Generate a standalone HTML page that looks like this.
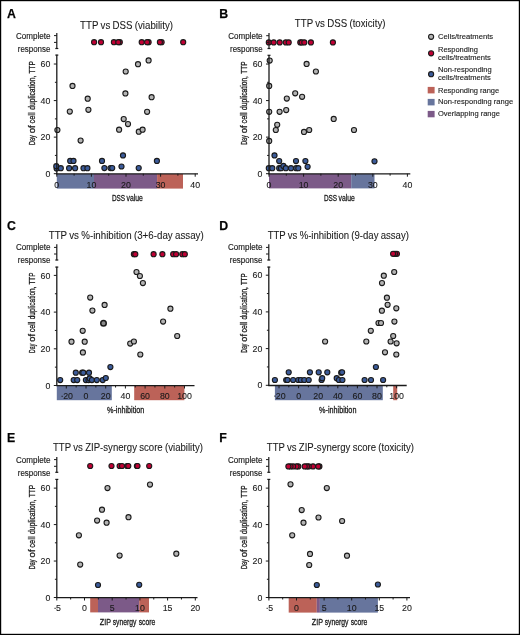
<!DOCTYPE html>
<html><head><meta charset="utf-8"><style>
html,body{margin:0;padding:0;background:#fff;}
svg{display:block;will-change:transform;}
text{font-family:"Liberation Sans", sans-serif;stroke:#1a1a1a;stroke-width:0.25px;}
</style></head><body>
<svg width="520" height="635" viewBox="0 0 520 635">
<rect x="0" y="0" width="520" height="635" fill="#fff"/>
<text x="6.90" y="17.70" font-size="12.3" text-anchor="start" font-weight="bold" fill="#000" >A</text>
<text x="80.10" y="28.75" font-size="10.2" text-anchor="start" font-weight="normal" fill="#1a1a1a" textLength="92.90" lengthAdjust="spacingAndGlyphs" style="stroke-width:0.08px;word-spacing:-0.4px">TTP vs DSS (viability)</text>
<text x="50.40" y="38.60" font-size="8.3" text-anchor="end" font-weight="normal" fill="#1a1a1a" textLength="34.40" lengthAdjust="spacingAndGlyphs" style="stroke-width:0.15px">Complete</text>
<text x="50.40" y="51.70" font-size="8.3" text-anchor="end" font-weight="normal" fill="#1a1a1a" textLength="32.60" lengthAdjust="spacingAndGlyphs" style="stroke-width:0.15px">response</text>
<text x="50.30" y="176.80" font-size="8.8" text-anchor="end" font-weight="normal" fill="#1a1a1a" style="stroke-width:0.1px">0</text>
<text x="50.30" y="140.24" font-size="8.8" text-anchor="end" font-weight="normal" fill="#1a1a1a" style="stroke-width:0.1px">20</text>
<text x="50.30" y="103.68" font-size="8.8" text-anchor="end" font-weight="normal" fill="#1a1a1a" style="stroke-width:0.1px">40</text>
<text x="50.30" y="67.12" font-size="8.8" text-anchor="end" font-weight="normal" fill="#1a1a1a" style="stroke-width:0.1px">60</text>
<text transform="translate(35.00,145.00) rotate(-90)" font-size="9.4" fill="#1a1a1a" style="stroke-width:0.3px" textLength="9.61" lengthAdjust="spacingAndGlyphs">Day</text>
<text transform="translate(35.00,133.31) rotate(-90)" font-size="9.4" fill="#1a1a1a" style="stroke-width:0.3px" textLength="8.03" lengthAdjust="spacingAndGlyphs">of</text>
<text transform="translate(35.00,123.51) rotate(-90)" font-size="9.4" fill="#1a1a1a" style="stroke-width:0.3px" textLength="11.20" lengthAdjust="spacingAndGlyphs">cell</text>
<text transform="translate(35.00,109.84) rotate(-90)" font-size="9.4" fill="#1a1a1a" style="stroke-width:0.3px" textLength="34.18" lengthAdjust="spacingAndGlyphs">duplication,</text>
<text transform="translate(35.00,73.39) rotate(-90)" font-size="9.4" fill="#1a1a1a" style="stroke-width:0.3px" textLength="12.39" lengthAdjust="spacingAndGlyphs">TTP</text>
<rect x="56.80" y="173.90" width="37.20" height="14.70" fill="#67759d"/>
<rect x="94.00" y="173.90" width="63.10" height="14.70" fill="#7c5a88"/>
<rect x="157.10" y="173.90" width="25.90" height="14.70" fill="#bc6258"/>
<circle cx="72.50" cy="85.90" r="2.55" fill="#b4b4b4" stroke="#1a1a1a" stroke-width="1.1"/>
<circle cx="87.70" cy="98.70" r="2.55" fill="#b4b4b4" stroke="#1a1a1a" stroke-width="1.1"/>
<circle cx="69.80" cy="111.60" r="2.55" fill="#b4b4b4" stroke="#1a1a1a" stroke-width="1.1"/>
<circle cx="88.40" cy="109.80" r="2.55" fill="#b4b4b4" stroke="#1a1a1a" stroke-width="1.1"/>
<circle cx="57.40" cy="130.00" r="2.55" fill="#b4b4b4" stroke="#1a1a1a" stroke-width="1.1"/>
<circle cx="80.60" cy="140.60" r="2.55" fill="#b4b4b4" stroke="#1a1a1a" stroke-width="1.1"/>
<circle cx="148.60" cy="60.40" r="2.55" fill="#b4b4b4" stroke="#1a1a1a" stroke-width="1.1"/>
<circle cx="138.00" cy="64.20" r="2.55" fill="#b4b4b4" stroke="#1a1a1a" stroke-width="1.1"/>
<circle cx="125.70" cy="71.50" r="2.55" fill="#b4b4b4" stroke="#1a1a1a" stroke-width="1.1"/>
<circle cx="125.40" cy="93.40" r="2.55" fill="#b4b4b4" stroke="#1a1a1a" stroke-width="1.1"/>
<circle cx="151.60" cy="97.20" r="2.55" fill="#b4b4b4" stroke="#1a1a1a" stroke-width="1.1"/>
<circle cx="147.10" cy="111.80" r="2.55" fill="#b4b4b4" stroke="#1a1a1a" stroke-width="1.1"/>
<circle cx="123.70" cy="119.10" r="2.55" fill="#b4b4b4" stroke="#1a1a1a" stroke-width="1.1"/>
<circle cx="128.00" cy="124.10" r="2.55" fill="#b4b4b4" stroke="#1a1a1a" stroke-width="1.1"/>
<circle cx="119.10" cy="129.70" r="2.55" fill="#b4b4b4" stroke="#1a1a1a" stroke-width="1.1"/>
<circle cx="138.80" cy="131.70" r="2.55" fill="#b4b4b4" stroke="#1a1a1a" stroke-width="1.1"/>
<circle cx="142.60" cy="129.70" r="2.55" fill="#b4b4b4" stroke="#1a1a1a" stroke-width="1.1"/>
<circle cx="56.60" cy="168.50" r="2.55" fill="#3b5b9a" stroke="#1a1a1a" stroke-width="1.1"/>
<circle cx="56.30" cy="166.20" r="2.55" fill="#3b5b9a" stroke="#1a1a1a" stroke-width="1.1"/>
<circle cx="60.80" cy="168.20" r="2.55" fill="#3b5b9a" stroke="#1a1a1a" stroke-width="1.1"/>
<circle cx="69.10" cy="168.20" r="2.55" fill="#3b5b9a" stroke="#1a1a1a" stroke-width="1.1"/>
<circle cx="70.20" cy="160.90" r="2.55" fill="#3b5b9a" stroke="#1a1a1a" stroke-width="1.1"/>
<circle cx="73.50" cy="160.90" r="2.55" fill="#3b5b9a" stroke="#1a1a1a" stroke-width="1.1"/>
<circle cx="75.10" cy="168.20" r="2.55" fill="#3b5b9a" stroke="#1a1a1a" stroke-width="1.1"/>
<circle cx="83.50" cy="168.20" r="2.55" fill="#3b5b9a" stroke="#1a1a1a" stroke-width="1.1"/>
<circle cx="87.40" cy="168.20" r="2.55" fill="#3b5b9a" stroke="#1a1a1a" stroke-width="1.1"/>
<circle cx="102.00" cy="160.90" r="2.55" fill="#3b5b9a" stroke="#1a1a1a" stroke-width="1.1"/>
<circle cx="104.40" cy="168.10" r="2.55" fill="#3b5b9a" stroke="#1a1a1a" stroke-width="1.1"/>
<circle cx="110.50" cy="168.10" r="2.55" fill="#3b5b9a" stroke="#1a1a1a" stroke-width="1.1"/>
<circle cx="112.20" cy="168.10" r="2.55" fill="#3b5b9a" stroke="#1a1a1a" stroke-width="1.1"/>
<circle cx="121.50" cy="166.50" r="2.55" fill="#3b5b9a" stroke="#1a1a1a" stroke-width="1.1"/>
<circle cx="123.00" cy="155.40" r="2.55" fill="#3b5b9a" stroke="#1a1a1a" stroke-width="1.1"/>
<circle cx="138.70" cy="168.10" r="2.55" fill="#3b5b9a" stroke="#1a1a1a" stroke-width="1.1"/>
<circle cx="156.90" cy="160.90" r="2.55" fill="#3b5b9a" stroke="#1a1a1a" stroke-width="1.1"/>
<circle cx="161.60" cy="42.20" r="2.55" fill="#c00034" stroke="#1a1a1a" stroke-width="1.1"/>
<circle cx="159.90" cy="42.20" r="2.55" fill="#c00034" stroke="#1a1a1a" stroke-width="1.1"/>
<circle cx="148.60" cy="42.20" r="2.55" fill="#c00034" stroke="#1a1a1a" stroke-width="1.1"/>
<circle cx="147.10" cy="42.20" r="2.55" fill="#c00034" stroke="#1a1a1a" stroke-width="1.1"/>
<circle cx="141.70" cy="42.20" r="2.55" fill="#c00034" stroke="#1a1a1a" stroke-width="1.1"/>
<circle cx="119.80" cy="42.20" r="2.55" fill="#c00034" stroke="#1a1a1a" stroke-width="1.1"/>
<circle cx="113.90" cy="42.20" r="2.55" fill="#c00034" stroke="#1a1a1a" stroke-width="1.1"/>
<circle cx="118.30" cy="42.20" r="2.55" fill="#c00034" stroke="#1a1a1a" stroke-width="1.1"/>
<circle cx="101.00" cy="42.20" r="2.55" fill="#c00034" stroke="#1a1a1a" stroke-width="1.1"/>
<circle cx="94.10" cy="42.20" r="2.55" fill="#c00034" stroke="#1a1a1a" stroke-width="1.1"/>
<circle cx="183.20" cy="42.20" r="2.55" fill="#c00034" stroke="#1a1a1a" stroke-width="1.1"/>
<line x1="56.80" y1="32.90" x2="56.80" y2="48.80" stroke="#1a1a1a" stroke-width="1.2"/>
<line x1="55.30" y1="48.50" x2="58.30" y2="48.50" stroke="#1a1a1a" stroke-width="1.2"/>
<line x1="54.00" y1="35.60" x2="56.80" y2="35.60" stroke="#1a1a1a" stroke-width="1.0"/>
<line x1="54.00" y1="42.40" x2="56.80" y2="42.40" stroke="#1a1a1a" stroke-width="1.0"/>
<line x1="56.80" y1="54.80" x2="56.80" y2="174.30" stroke="#1a1a1a" stroke-width="1.3"/>
<line x1="55.30" y1="55.10" x2="58.30" y2="55.10" stroke="#1a1a1a" stroke-width="1.2"/>
<line x1="53.80" y1="173.70" x2="56.80" y2="173.70" stroke="#1a1a1a" stroke-width="1.0"/>
<line x1="54.90" y1="155.42" x2="56.80" y2="155.42" stroke="#1a1a1a" stroke-width="1.0"/>
<line x1="53.80" y1="137.14" x2="56.80" y2="137.14" stroke="#1a1a1a" stroke-width="1.0"/>
<line x1="54.90" y1="118.86" x2="56.80" y2="118.86" stroke="#1a1a1a" stroke-width="1.0"/>
<line x1="53.80" y1="100.58" x2="56.80" y2="100.58" stroke="#1a1a1a" stroke-width="1.0"/>
<line x1="54.90" y1="82.30" x2="56.80" y2="82.30" stroke="#1a1a1a" stroke-width="1.0"/>
<line x1="53.80" y1="64.02" x2="56.80" y2="64.02" stroke="#1a1a1a" stroke-width="1.0"/>
<line x1="56.20" y1="173.85" x2="198.00" y2="173.85" stroke="#1a1a1a" stroke-width="1.4"/>
<line x1="56.80" y1="173.70" x2="56.80" y2="176.70" stroke="#1a1a1a" stroke-width="1.0"/>
<line x1="74.10" y1="173.70" x2="74.10" y2="175.70" stroke="#1a1a1a" stroke-width="1.0"/>
<line x1="91.40" y1="173.70" x2="91.40" y2="176.70" stroke="#1a1a1a" stroke-width="1.0"/>
<line x1="108.70" y1="173.70" x2="108.70" y2="175.70" stroke="#1a1a1a" stroke-width="1.0"/>
<line x1="126.00" y1="173.70" x2="126.00" y2="176.70" stroke="#1a1a1a" stroke-width="1.0"/>
<line x1="143.30" y1="173.70" x2="143.30" y2="175.70" stroke="#1a1a1a" stroke-width="1.0"/>
<line x1="160.60" y1="173.70" x2="160.60" y2="176.70" stroke="#1a1a1a" stroke-width="1.0"/>
<line x1="177.90" y1="173.70" x2="177.90" y2="175.70" stroke="#1a1a1a" stroke-width="1.0"/>
<line x1="195.20" y1="173.70" x2="195.20" y2="176.70" stroke="#1a1a1a" stroke-width="1.0"/>
<text x="56.80" y="187.50" font-size="8.8" text-anchor="middle" font-weight="normal" fill="#1a1a1a" style="stroke-width:0.1px">0</text>
<text x="91.40" y="187.50" font-size="8.8" text-anchor="middle" font-weight="normal" fill="#1a1a1a" style="stroke-width:0.1px">10</text>
<text x="126.00" y="187.50" font-size="8.8" text-anchor="middle" font-weight="normal" fill="#1a1a1a" style="stroke-width:0.1px">20</text>
<text x="160.60" y="187.50" font-size="8.8" text-anchor="middle" font-weight="normal" fill="#1a1a1a" style="stroke-width:0.1px">30</text>
<text x="195.20" y="187.50" font-size="8.8" text-anchor="middle" font-weight="normal" fill="#1a1a1a" style="stroke-width:0.1px">40</text>
<text x="111.90" y="201.00" font-size="9.2" text-anchor="start" font-weight="normal" fill="#1a1a1a" textLength="13.20" lengthAdjust="spacingAndGlyphs" style="stroke-width:0.3px">DSS</text>
<text x="126.50" y="201.00" font-size="9.2" text-anchor="start" font-weight="normal" fill="#1a1a1a" textLength="16.30" lengthAdjust="spacingAndGlyphs" style="stroke-width:0.3px">value</text>
<text x="219.20" y="17.70" font-size="12.3" text-anchor="start" font-weight="bold" fill="#000" >B</text>
<text x="294.80" y="26.85" font-size="10.2" text-anchor="start" font-weight="normal" fill="#1a1a1a" textLength="90.70" lengthAdjust="spacingAndGlyphs" style="stroke-width:0.08px;word-spacing:-0.4px">TTP vs DSS (toxicity)</text>
<text x="262.60" y="38.60" font-size="8.3" text-anchor="end" font-weight="normal" fill="#1a1a1a" textLength="34.40" lengthAdjust="spacingAndGlyphs" style="stroke-width:0.15px">Complete</text>
<text x="262.60" y="51.70" font-size="8.3" text-anchor="end" font-weight="normal" fill="#1a1a1a" textLength="32.60" lengthAdjust="spacingAndGlyphs" style="stroke-width:0.15px">response</text>
<text x="262.50" y="176.80" font-size="8.8" text-anchor="end" font-weight="normal" fill="#1a1a1a" style="stroke-width:0.1px">0</text>
<text x="262.50" y="140.24" font-size="8.8" text-anchor="end" font-weight="normal" fill="#1a1a1a" style="stroke-width:0.1px">20</text>
<text x="262.50" y="103.68" font-size="8.8" text-anchor="end" font-weight="normal" fill="#1a1a1a" style="stroke-width:0.1px">40</text>
<text x="262.50" y="67.12" font-size="8.8" text-anchor="end" font-weight="normal" fill="#1a1a1a" style="stroke-width:0.1px">60</text>
<text transform="translate(247.40,144.80) rotate(-90)" font-size="9.4" fill="#1a1a1a" style="stroke-width:0.3px" textLength="9.54" lengthAdjust="spacingAndGlyphs">Day</text>
<text transform="translate(247.40,133.21) rotate(-90)" font-size="9.4" fill="#1a1a1a" style="stroke-width:0.3px" textLength="7.97" lengthAdjust="spacingAndGlyphs">of</text>
<text transform="translate(247.40,123.49) rotate(-90)" font-size="9.4" fill="#1a1a1a" style="stroke-width:0.3px" textLength="11.11" lengthAdjust="spacingAndGlyphs">cell</text>
<text transform="translate(247.40,109.93) rotate(-90)" font-size="9.4" fill="#1a1a1a" style="stroke-width:0.3px" textLength="33.90" lengthAdjust="spacingAndGlyphs">duplication,</text>
<text transform="translate(247.40,73.79) rotate(-90)" font-size="9.4" fill="#1a1a1a" style="stroke-width:0.3px" textLength="12.29" lengthAdjust="spacingAndGlyphs">TTP</text>
<rect x="269.00" y="173.90" width="82.20" height="14.50" fill="#7c5a88"/>
<rect x="351.20" y="173.90" width="23.30" height="14.50" fill="#67759d"/>
<circle cx="269.70" cy="60.60" r="2.55" fill="#b4b4b4" stroke="#1a1a1a" stroke-width="1.1"/>
<circle cx="306.60" cy="63.90" r="2.55" fill="#b4b4b4" stroke="#1a1a1a" stroke-width="1.1"/>
<circle cx="315.90" cy="71.50" r="2.55" fill="#b4b4b4" stroke="#1a1a1a" stroke-width="1.1"/>
<circle cx="269.20" cy="85.90" r="2.55" fill="#b4b4b4" stroke="#1a1a1a" stroke-width="1.1"/>
<circle cx="295.20" cy="93.30" r="2.55" fill="#b4b4b4" stroke="#1a1a1a" stroke-width="1.1"/>
<circle cx="302.10" cy="96.80" r="2.55" fill="#b4b4b4" stroke="#1a1a1a" stroke-width="1.1"/>
<circle cx="286.80" cy="98.60" r="2.55" fill="#b4b4b4" stroke="#1a1a1a" stroke-width="1.1"/>
<circle cx="269.20" cy="111.80" r="2.55" fill="#b4b4b4" stroke="#1a1a1a" stroke-width="1.1"/>
<circle cx="279.60" cy="111.80" r="2.55" fill="#b4b4b4" stroke="#1a1a1a" stroke-width="1.1"/>
<circle cx="286.20" cy="110.10" r="2.55" fill="#b4b4b4" stroke="#1a1a1a" stroke-width="1.1"/>
<circle cx="333.70" cy="118.90" r="2.55" fill="#b4b4b4" stroke="#1a1a1a" stroke-width="1.1"/>
<circle cx="277.20" cy="124.80" r="2.55" fill="#b4b4b4" stroke="#1a1a1a" stroke-width="1.1"/>
<circle cx="275.80" cy="130.00" r="2.55" fill="#b4b4b4" stroke="#1a1a1a" stroke-width="1.1"/>
<circle cx="304.00" cy="131.90" r="2.55" fill="#b4b4b4" stroke="#1a1a1a" stroke-width="1.1"/>
<circle cx="309.20" cy="130.00" r="2.55" fill="#b4b4b4" stroke="#1a1a1a" stroke-width="1.1"/>
<circle cx="269.20" cy="140.90" r="2.55" fill="#b4b4b4" stroke="#1a1a1a" stroke-width="1.1"/>
<circle cx="354.00" cy="130.00" r="2.55" fill="#b4b4b4" stroke="#1a1a1a" stroke-width="1.1"/>
<circle cx="274.50" cy="155.40" r="2.55" fill="#3b5b9a" stroke="#1a1a1a" stroke-width="1.1"/>
<circle cx="279.20" cy="161.10" r="2.55" fill="#3b5b9a" stroke="#1a1a1a" stroke-width="1.1"/>
<circle cx="296.00" cy="161.10" r="2.55" fill="#3b5b9a" stroke="#1a1a1a" stroke-width="1.1"/>
<circle cx="305.40" cy="161.10" r="2.55" fill="#3b5b9a" stroke="#1a1a1a" stroke-width="1.1"/>
<circle cx="307.60" cy="166.80" r="2.55" fill="#3b5b9a" stroke="#1a1a1a" stroke-width="1.1"/>
<circle cx="268.80" cy="168.20" r="2.55" fill="#3b5b9a" stroke="#1a1a1a" stroke-width="1.1"/>
<circle cx="272.30" cy="168.20" r="2.55" fill="#3b5b9a" stroke="#1a1a1a" stroke-width="1.1"/>
<circle cx="279.20" cy="168.20" r="2.55" fill="#3b5b9a" stroke="#1a1a1a" stroke-width="1.1"/>
<circle cx="281.00" cy="168.20" r="2.55" fill="#3b5b9a" stroke="#1a1a1a" stroke-width="1.1"/>
<circle cx="283.40" cy="165.90" r="2.55" fill="#3b5b9a" stroke="#1a1a1a" stroke-width="1.1"/>
<circle cx="285.80" cy="168.20" r="2.55" fill="#3b5b9a" stroke="#1a1a1a" stroke-width="1.1"/>
<circle cx="291.00" cy="168.20" r="2.55" fill="#3b5b9a" stroke="#1a1a1a" stroke-width="1.1"/>
<circle cx="296.20" cy="168.20" r="2.55" fill="#3b5b9a" stroke="#1a1a1a" stroke-width="1.1"/>
<circle cx="298.30" cy="168.20" r="2.55" fill="#3b5b9a" stroke="#1a1a1a" stroke-width="1.1"/>
<circle cx="374.50" cy="161.30" r="2.55" fill="#3b5b9a" stroke="#1a1a1a" stroke-width="1.1"/>
<circle cx="268.80" cy="42.40" r="2.55" fill="#c00034" stroke="#1a1a1a" stroke-width="1.1"/>
<circle cx="273.70" cy="42.40" r="2.55" fill="#c00034" stroke="#1a1a1a" stroke-width="1.1"/>
<circle cx="279.70" cy="42.40" r="2.55" fill="#c00034" stroke="#1a1a1a" stroke-width="1.1"/>
<circle cx="285.80" cy="42.40" r="2.55" fill="#c00034" stroke="#1a1a1a" stroke-width="1.1"/>
<circle cx="288.70" cy="42.40" r="2.55" fill="#c00034" stroke="#1a1a1a" stroke-width="1.1"/>
<circle cx="300.30" cy="42.40" r="2.55" fill="#c00034" stroke="#1a1a1a" stroke-width="1.1"/>
<circle cx="301.70" cy="42.40" r="2.55" fill="#c00034" stroke="#1a1a1a" stroke-width="1.1"/>
<circle cx="304.30" cy="42.40" r="2.55" fill="#c00034" stroke="#1a1a1a" stroke-width="1.1"/>
<circle cx="310.90" cy="42.40" r="2.55" fill="#c00034" stroke="#1a1a1a" stroke-width="1.1"/>
<circle cx="332.90" cy="42.40" r="2.55" fill="#c00034" stroke="#1a1a1a" stroke-width="1.1"/>
<line x1="269.00" y1="32.90" x2="269.00" y2="48.80" stroke="#1a1a1a" stroke-width="1.2"/>
<line x1="267.50" y1="48.50" x2="270.50" y2="48.50" stroke="#1a1a1a" stroke-width="1.2"/>
<line x1="266.20" y1="35.70" x2="269.00" y2="35.70" stroke="#1a1a1a" stroke-width="1.0"/>
<line x1="266.20" y1="42.40" x2="269.00" y2="42.40" stroke="#1a1a1a" stroke-width="1.0"/>
<line x1="269.00" y1="55.00" x2="269.00" y2="174.30" stroke="#1a1a1a" stroke-width="1.3"/>
<line x1="267.50" y1="55.30" x2="270.50" y2="55.30" stroke="#1a1a1a" stroke-width="1.2"/>
<line x1="266.00" y1="173.70" x2="269.00" y2="173.70" stroke="#1a1a1a" stroke-width="1.0"/>
<line x1="267.10" y1="155.42" x2="269.00" y2="155.42" stroke="#1a1a1a" stroke-width="1.0"/>
<line x1="266.00" y1="137.14" x2="269.00" y2="137.14" stroke="#1a1a1a" stroke-width="1.0"/>
<line x1="267.10" y1="118.86" x2="269.00" y2="118.86" stroke="#1a1a1a" stroke-width="1.0"/>
<line x1="266.00" y1="100.58" x2="269.00" y2="100.58" stroke="#1a1a1a" stroke-width="1.0"/>
<line x1="267.10" y1="82.30" x2="269.00" y2="82.30" stroke="#1a1a1a" stroke-width="1.0"/>
<line x1="266.00" y1="64.02" x2="269.00" y2="64.02" stroke="#1a1a1a" stroke-width="1.0"/>
<line x1="268.40" y1="173.85" x2="410.30" y2="173.85" stroke="#1a1a1a" stroke-width="1.4"/>
<line x1="269.00" y1="173.70" x2="269.00" y2="176.70" stroke="#1a1a1a" stroke-width="1.0"/>
<line x1="286.30" y1="173.70" x2="286.30" y2="175.70" stroke="#1a1a1a" stroke-width="1.0"/>
<line x1="303.60" y1="173.70" x2="303.60" y2="176.70" stroke="#1a1a1a" stroke-width="1.0"/>
<line x1="320.90" y1="173.70" x2="320.90" y2="175.70" stroke="#1a1a1a" stroke-width="1.0"/>
<line x1="338.20" y1="173.70" x2="338.20" y2="176.70" stroke="#1a1a1a" stroke-width="1.0"/>
<line x1="355.50" y1="173.70" x2="355.50" y2="175.70" stroke="#1a1a1a" stroke-width="1.0"/>
<line x1="372.80" y1="173.70" x2="372.80" y2="176.70" stroke="#1a1a1a" stroke-width="1.0"/>
<line x1="390.10" y1="173.70" x2="390.10" y2="175.70" stroke="#1a1a1a" stroke-width="1.0"/>
<line x1="407.40" y1="173.70" x2="407.40" y2="176.70" stroke="#1a1a1a" stroke-width="1.0"/>
<text x="269.00" y="187.50" font-size="8.8" text-anchor="middle" font-weight="normal" fill="#1a1a1a" style="stroke-width:0.1px">0</text>
<text x="303.60" y="187.50" font-size="8.8" text-anchor="middle" font-weight="normal" fill="#1a1a1a" style="stroke-width:0.1px">10</text>
<text x="338.20" y="187.50" font-size="8.8" text-anchor="middle" font-weight="normal" fill="#1a1a1a" style="stroke-width:0.1px">20</text>
<text x="372.80" y="187.50" font-size="8.8" text-anchor="middle" font-weight="normal" fill="#1a1a1a" style="stroke-width:0.1px">30</text>
<text x="407.40" y="187.50" font-size="8.8" text-anchor="middle" font-weight="normal" fill="#1a1a1a" style="stroke-width:0.1px">40</text>
<text x="323.90" y="201.00" font-size="9.2" text-anchor="start" font-weight="normal" fill="#1a1a1a" textLength="13.20" lengthAdjust="spacingAndGlyphs" style="stroke-width:0.3px">DSS</text>
<text x="338.50" y="201.00" font-size="9.2" text-anchor="start" font-weight="normal" fill="#1a1a1a" textLength="16.30" lengthAdjust="spacingAndGlyphs" style="stroke-width:0.3px">value</text>
<text x="6.90" y="229.90" font-size="12.3" text-anchor="start" font-weight="bold" fill="#000" >C</text>
<text x="48.70" y="238.75" font-size="10.2" text-anchor="start" font-weight="normal" fill="#1a1a1a" textLength="155.00" lengthAdjust="spacingAndGlyphs" style="stroke-width:0.08px;word-spacing:-0.4px">TTP vs %-inhibition (3+6-day assay)</text>
<text x="50.40" y="250.00" font-size="8.3" text-anchor="end" font-weight="normal" fill="#1a1a1a" textLength="34.40" lengthAdjust="spacingAndGlyphs" style="stroke-width:0.15px">Complete</text>
<text x="50.40" y="263.10" font-size="8.3" text-anchor="end" font-weight="normal" fill="#1a1a1a" textLength="32.60" lengthAdjust="spacingAndGlyphs" style="stroke-width:0.15px">response</text>
<text x="50.30" y="388.60" font-size="8.8" text-anchor="end" font-weight="normal" fill="#1a1a1a" style="stroke-width:0.1px">0</text>
<text x="50.30" y="351.90" font-size="8.8" text-anchor="end" font-weight="normal" fill="#1a1a1a" style="stroke-width:0.1px">20</text>
<text x="50.30" y="315.20" font-size="8.8" text-anchor="end" font-weight="normal" fill="#1a1a1a" style="stroke-width:0.1px">40</text>
<text x="50.30" y="278.50" font-size="8.8" text-anchor="end" font-weight="normal" fill="#1a1a1a" style="stroke-width:0.1px">60</text>
<text transform="translate(35.00,352.90) rotate(-90)" font-size="9.4" fill="#1a1a1a" style="stroke-width:0.3px" textLength="9.21" lengthAdjust="spacingAndGlyphs">Day</text>
<text transform="translate(35.00,341.73) rotate(-90)" font-size="9.4" fill="#1a1a1a" style="stroke-width:0.3px" textLength="7.70" lengthAdjust="spacingAndGlyphs">of</text>
<text transform="translate(35.00,332.36) rotate(-90)" font-size="9.4" fill="#1a1a1a" style="stroke-width:0.3px" textLength="10.73" lengthAdjust="spacingAndGlyphs">cell</text>
<text transform="translate(35.00,319.30) rotate(-90)" font-size="9.4" fill="#1a1a1a" style="stroke-width:0.3px" textLength="32.69" lengthAdjust="spacingAndGlyphs">duplication,</text>
<text transform="translate(35.00,284.46) rotate(-90)" font-size="9.4" fill="#1a1a1a" style="stroke-width:0.3px" textLength="11.86" lengthAdjust="spacingAndGlyphs">TTP</text>
<rect x="56.80" y="385.70" width="55.00" height="14.50" fill="#67759d"/>
<rect x="134.20" y="385.70" width="50.20" height="14.50" fill="#bc6258"/>
<circle cx="90.20" cy="297.60" r="2.55" fill="#b4b4b4" stroke="#1a1a1a" stroke-width="1.1"/>
<circle cx="104.60" cy="304.90" r="2.55" fill="#b4b4b4" stroke="#1a1a1a" stroke-width="1.1"/>
<circle cx="92.40" cy="310.60" r="2.55" fill="#b4b4b4" stroke="#1a1a1a" stroke-width="1.1"/>
<circle cx="82.70" cy="330.80" r="2.55" fill="#b4b4b4" stroke="#1a1a1a" stroke-width="1.1"/>
<circle cx="71.50" cy="341.70" r="2.55" fill="#b4b4b4" stroke="#1a1a1a" stroke-width="1.1"/>
<circle cx="84.70" cy="341.70" r="2.55" fill="#b4b4b4" stroke="#1a1a1a" stroke-width="1.1"/>
<circle cx="82.90" cy="352.40" r="2.55" fill="#b4b4b4" stroke="#1a1a1a" stroke-width="1.1"/>
<circle cx="130.20" cy="343.60" r="2.55" fill="#b4b4b4" stroke="#1a1a1a" stroke-width="1.1"/>
<circle cx="133.90" cy="341.50" r="2.55" fill="#b4b4b4" stroke="#1a1a1a" stroke-width="1.1"/>
<circle cx="136.50" cy="272.00" r="2.55" fill="#b4b4b4" stroke="#1a1a1a" stroke-width="1.1"/>
<circle cx="139.90" cy="276.00" r="2.55" fill="#b4b4b4" stroke="#1a1a1a" stroke-width="1.1"/>
<circle cx="142.90" cy="283.10" r="2.55" fill="#b4b4b4" stroke="#1a1a1a" stroke-width="1.1"/>
<circle cx="170.40" cy="308.70" r="2.55" fill="#b4b4b4" stroke="#1a1a1a" stroke-width="1.1"/>
<circle cx="163.10" cy="321.60" r="2.55" fill="#b4b4b4" stroke="#1a1a1a" stroke-width="1.1"/>
<circle cx="177.20" cy="336.00" r="2.55" fill="#b4b4b4" stroke="#1a1a1a" stroke-width="1.1"/>
<circle cx="140.30" cy="354.50" r="2.55" fill="#b4b4b4" stroke="#1a1a1a" stroke-width="1.1"/>
<circle cx="103.50" cy="323.20" r="2.75" fill="#8a8a8a" stroke="#1a1a1a" stroke-width="1.5"/>
<circle cx="60.20" cy="380.10" r="2.55" fill="#3b5b9a" stroke="#1a1a1a" stroke-width="1.1"/>
<circle cx="73.70" cy="380.10" r="2.55" fill="#3b5b9a" stroke="#1a1a1a" stroke-width="1.1"/>
<circle cx="77.20" cy="380.10" r="2.55" fill="#3b5b9a" stroke="#1a1a1a" stroke-width="1.1"/>
<circle cx="75.80" cy="372.70" r="2.55" fill="#3b5b9a" stroke="#1a1a1a" stroke-width="1.1"/>
<circle cx="82.10" cy="372.70" r="2.55" fill="#3b5b9a" stroke="#1a1a1a" stroke-width="1.1"/>
<circle cx="83.30" cy="372.70" r="2.55" fill="#3b5b9a" stroke="#1a1a1a" stroke-width="1.1"/>
<circle cx="89.00" cy="372.70" r="2.55" fill="#3b5b9a" stroke="#1a1a1a" stroke-width="1.1"/>
<circle cx="85.90" cy="380.10" r="2.55" fill="#3b5b9a" stroke="#1a1a1a" stroke-width="1.1"/>
<circle cx="88.50" cy="380.10" r="2.55" fill="#3b5b9a" stroke="#1a1a1a" stroke-width="1.1"/>
<circle cx="89.70" cy="378.40" r="2.55" fill="#3b5b9a" stroke="#1a1a1a" stroke-width="1.1"/>
<circle cx="91.90" cy="380.10" r="2.55" fill="#3b5b9a" stroke="#1a1a1a" stroke-width="1.1"/>
<circle cx="96.80" cy="380.10" r="2.55" fill="#3b5b9a" stroke="#1a1a1a" stroke-width="1.1"/>
<circle cx="102.70" cy="380.10" r="2.55" fill="#3b5b9a" stroke="#1a1a1a" stroke-width="1.1"/>
<circle cx="105.80" cy="378.00" r="2.55" fill="#3b5b9a" stroke="#1a1a1a" stroke-width="1.1"/>
<circle cx="110.40" cy="367.10" r="2.55" fill="#3b5b9a" stroke="#1a1a1a" stroke-width="1.1"/>
<circle cx="133.90" cy="254.20" r="2.55" fill="#c00034" stroke="#1a1a1a" stroke-width="1.1"/>
<circle cx="135.30" cy="254.20" r="2.55" fill="#c00034" stroke="#1a1a1a" stroke-width="1.1"/>
<circle cx="153.60" cy="254.20" r="2.55" fill="#c00034" stroke="#1a1a1a" stroke-width="1.1"/>
<circle cx="162.40" cy="254.20" r="2.55" fill="#c00034" stroke="#1a1a1a" stroke-width="1.1"/>
<circle cx="173.20" cy="254.20" r="2.55" fill="#c00034" stroke="#1a1a1a" stroke-width="1.1"/>
<circle cx="176.10" cy="254.20" r="2.55" fill="#c00034" stroke="#1a1a1a" stroke-width="1.1"/>
<circle cx="182.30" cy="254.20" r="2.55" fill="#c00034" stroke="#1a1a1a" stroke-width="1.1"/>
<circle cx="184.80" cy="254.20" r="2.55" fill="#c00034" stroke="#1a1a1a" stroke-width="1.1"/>
<line x1="56.80" y1="244.20" x2="56.80" y2="260.30" stroke="#1a1a1a" stroke-width="1.2"/>
<line x1="55.30" y1="260.00" x2="58.30" y2="260.00" stroke="#1a1a1a" stroke-width="1.2"/>
<line x1="54.00" y1="247.40" x2="56.80" y2="247.40" stroke="#1a1a1a" stroke-width="1.0"/>
<line x1="54.00" y1="254.00" x2="56.80" y2="254.00" stroke="#1a1a1a" stroke-width="1.0"/>
<line x1="56.80" y1="266.80" x2="56.80" y2="386.10" stroke="#1a1a1a" stroke-width="1.3"/>
<line x1="55.30" y1="267.10" x2="58.30" y2="267.10" stroke="#1a1a1a" stroke-width="1.2"/>
<line x1="53.80" y1="385.50" x2="56.80" y2="385.50" stroke="#1a1a1a" stroke-width="1.0"/>
<line x1="54.90" y1="367.15" x2="56.80" y2="367.15" stroke="#1a1a1a" stroke-width="1.0"/>
<line x1="53.80" y1="348.80" x2="56.80" y2="348.80" stroke="#1a1a1a" stroke-width="1.0"/>
<line x1="54.90" y1="330.45" x2="56.80" y2="330.45" stroke="#1a1a1a" stroke-width="1.0"/>
<line x1="53.80" y1="312.10" x2="56.80" y2="312.10" stroke="#1a1a1a" stroke-width="1.0"/>
<line x1="54.90" y1="293.75" x2="56.80" y2="293.75" stroke="#1a1a1a" stroke-width="1.0"/>
<line x1="53.80" y1="275.40" x2="56.80" y2="275.40" stroke="#1a1a1a" stroke-width="1.0"/>
<line x1="56.20" y1="385.65" x2="194.50" y2="385.65" stroke="#1a1a1a" stroke-width="1.4"/>
<line x1="66.30" y1="385.50" x2="66.30" y2="388.50" stroke="#1a1a1a" stroke-width="1.0"/>
<line x1="76.15" y1="385.50" x2="76.15" y2="387.50" stroke="#1a1a1a" stroke-width="1.0"/>
<line x1="86.00" y1="385.50" x2="86.00" y2="388.50" stroke="#1a1a1a" stroke-width="1.0"/>
<line x1="95.85" y1="385.50" x2="95.85" y2="387.50" stroke="#1a1a1a" stroke-width="1.0"/>
<line x1="105.70" y1="385.50" x2="105.70" y2="388.50" stroke="#1a1a1a" stroke-width="1.0"/>
<line x1="115.55" y1="385.50" x2="115.55" y2="387.50" stroke="#1a1a1a" stroke-width="1.0"/>
<line x1="125.40" y1="385.50" x2="125.40" y2="388.50" stroke="#1a1a1a" stroke-width="1.0"/>
<line x1="135.25" y1="385.50" x2="135.25" y2="387.50" stroke="#1a1a1a" stroke-width="1.0"/>
<line x1="145.10" y1="385.50" x2="145.10" y2="388.50" stroke="#1a1a1a" stroke-width="1.0"/>
<line x1="154.95" y1="385.50" x2="154.95" y2="387.50" stroke="#1a1a1a" stroke-width="1.0"/>
<line x1="164.80" y1="385.50" x2="164.80" y2="388.50" stroke="#1a1a1a" stroke-width="1.0"/>
<line x1="174.65" y1="385.50" x2="174.65" y2="387.50" stroke="#1a1a1a" stroke-width="1.0"/>
<line x1="184.50" y1="385.50" x2="184.50" y2="388.50" stroke="#1a1a1a" stroke-width="1.0"/>
<text x="63.17" y="399.30" font-size="8.8" text-anchor="start" font-weight="normal" fill="#1a1a1a" style="stroke-width:0.1px">20</text>
<line x1="61.47" y1="396.30" x2="62.87" y2="396.30" stroke="#1a1a1a" stroke-width="0.9"/>
<text x="86.00" y="399.30" font-size="8.8" text-anchor="middle" font-weight="normal" fill="#1a1a1a" style="stroke-width:0.1px">0</text>
<text x="105.70" y="399.30" font-size="8.8" text-anchor="middle" font-weight="normal" fill="#1a1a1a" style="stroke-width:0.1px">20</text>
<text x="125.40" y="399.30" font-size="8.8" text-anchor="middle" font-weight="normal" fill="#1a1a1a" style="stroke-width:0.1px">40</text>
<text x="145.10" y="399.30" font-size="8.8" text-anchor="middle" font-weight="normal" fill="#1a1a1a" style="stroke-width:0.1px">60</text>
<text x="164.80" y="399.30" font-size="8.8" text-anchor="middle" font-weight="normal" fill="#1a1a1a" style="stroke-width:0.1px">80</text>
<text x="184.50" y="399.30" font-size="8.8" text-anchor="middle" font-weight="normal" fill="#1a1a1a" style="stroke-width:0.1px">100</text>
<text x="107.00" y="412.90" font-size="9.2" text-anchor="start" font-weight="normal" fill="#1a1a1a" textLength="37.30" lengthAdjust="spacingAndGlyphs" style="stroke-width:0.3px">%-inhibition</text>
<text x="219.20" y="229.90" font-size="12.3" text-anchor="start" font-weight="bold" fill="#000" >D</text>
<text x="267.70" y="238.60" font-size="10.2" text-anchor="start" font-weight="normal" fill="#1a1a1a" textLength="141.20" lengthAdjust="spacingAndGlyphs" style="stroke-width:0.08px;word-spacing:-0.4px">TTP vs %-inhibition (9-day assay)</text>
<text x="262.40" y="250.00" font-size="8.3" text-anchor="end" font-weight="normal" fill="#1a1a1a" textLength="34.40" lengthAdjust="spacingAndGlyphs" style="stroke-width:0.15px">Complete</text>
<text x="262.40" y="263.10" font-size="8.3" text-anchor="end" font-weight="normal" fill="#1a1a1a" textLength="32.60" lengthAdjust="spacingAndGlyphs" style="stroke-width:0.15px">response</text>
<text x="262.30" y="388.40" font-size="8.8" text-anchor="end" font-weight="normal" fill="#1a1a1a" style="stroke-width:0.1px">0</text>
<text x="262.30" y="351.70" font-size="8.8" text-anchor="end" font-weight="normal" fill="#1a1a1a" style="stroke-width:0.1px">20</text>
<text x="262.30" y="315.00" font-size="8.8" text-anchor="end" font-weight="normal" fill="#1a1a1a" style="stroke-width:0.1px">40</text>
<text x="262.30" y="278.30" font-size="8.8" text-anchor="end" font-weight="normal" fill="#1a1a1a" style="stroke-width:0.1px">60</text>
<text transform="translate(247.40,352.70) rotate(-90)" font-size="9.4" fill="#1a1a1a" style="stroke-width:0.3px" textLength="9.11" lengthAdjust="spacingAndGlyphs">Day</text>
<text transform="translate(247.40,341.67) rotate(-90)" font-size="9.4" fill="#1a1a1a" style="stroke-width:0.3px" textLength="7.61" lengthAdjust="spacingAndGlyphs">of</text>
<text transform="translate(247.40,332.42) rotate(-90)" font-size="9.4" fill="#1a1a1a" style="stroke-width:0.3px" textLength="10.60" lengthAdjust="spacingAndGlyphs">cell</text>
<text transform="translate(247.40,319.52) rotate(-90)" font-size="9.4" fill="#1a1a1a" style="stroke-width:0.3px" textLength="32.29" lengthAdjust="spacingAndGlyphs">duplication,</text>
<text transform="translate(247.40,285.12) rotate(-90)" font-size="9.4" fill="#1a1a1a" style="stroke-width:0.3px" textLength="11.72" lengthAdjust="spacingAndGlyphs">TTP</text>
<rect x="274.90" y="385.50" width="107.90" height="14.70" fill="#67759d"/>
<rect x="393.20" y="385.50" width="4.00" height="14.70" fill="#bc6258"/>
<circle cx="387.60" cy="304.80" r="2.55" fill="#b4b4b4" stroke="#1a1a1a" stroke-width="1.1"/>
<circle cx="381.90" cy="310.70" r="2.55" fill="#b4b4b4" stroke="#1a1a1a" stroke-width="1.1"/>
<circle cx="396.30" cy="308.30" r="2.55" fill="#b4b4b4" stroke="#1a1a1a" stroke-width="1.1"/>
<circle cx="378.50" cy="323.00" r="2.55" fill="#b4b4b4" stroke="#1a1a1a" stroke-width="1.1"/>
<circle cx="381.00" cy="323.00" r="2.55" fill="#b4b4b4" stroke="#1a1a1a" stroke-width="1.1"/>
<circle cx="394.40" cy="321.60" r="2.55" fill="#b4b4b4" stroke="#1a1a1a" stroke-width="1.1"/>
<circle cx="370.80" cy="330.80" r="2.55" fill="#b4b4b4" stroke="#1a1a1a" stroke-width="1.1"/>
<circle cx="366.30" cy="341.50" r="2.55" fill="#b4b4b4" stroke="#1a1a1a" stroke-width="1.1"/>
<circle cx="393.20" cy="336.00" r="2.55" fill="#b4b4b4" stroke="#1a1a1a" stroke-width="1.1"/>
<circle cx="390.60" cy="341.50" r="2.55" fill="#b4b4b4" stroke="#1a1a1a" stroke-width="1.1"/>
<circle cx="396.60" cy="343.30" r="2.55" fill="#b4b4b4" stroke="#1a1a1a" stroke-width="1.1"/>
<circle cx="385.00" cy="352.30" r="2.55" fill="#b4b4b4" stroke="#1a1a1a" stroke-width="1.1"/>
<circle cx="396.30" cy="354.50" r="2.55" fill="#b4b4b4" stroke="#1a1a1a" stroke-width="1.1"/>
<circle cx="394.20" cy="272.00" r="2.55" fill="#b4b4b4" stroke="#1a1a1a" stroke-width="1.1"/>
<circle cx="383.80" cy="275.70" r="2.55" fill="#b4b4b4" stroke="#1a1a1a" stroke-width="1.1"/>
<circle cx="382.00" cy="283.10" r="2.55" fill="#b4b4b4" stroke="#1a1a1a" stroke-width="1.1"/>
<circle cx="386.90" cy="297.70" r="2.55" fill="#b4b4b4" stroke="#1a1a1a" stroke-width="1.1"/>
<circle cx="325.10" cy="341.50" r="2.55" fill="#b4b4b4" stroke="#1a1a1a" stroke-width="1.1"/>
<circle cx="274.90" cy="380.00" r="2.55" fill="#3b5b9a" stroke="#1a1a1a" stroke-width="1.1"/>
<circle cx="286.20" cy="380.00" r="2.55" fill="#3b5b9a" stroke="#1a1a1a" stroke-width="1.1"/>
<circle cx="287.50" cy="380.00" r="2.55" fill="#3b5b9a" stroke="#1a1a1a" stroke-width="1.1"/>
<circle cx="288.70" cy="372.30" r="2.55" fill="#3b5b9a" stroke="#1a1a1a" stroke-width="1.1"/>
<circle cx="293.10" cy="380.00" r="2.55" fill="#3b5b9a" stroke="#1a1a1a" stroke-width="1.1"/>
<circle cx="298.30" cy="380.00" r="2.55" fill="#3b5b9a" stroke="#1a1a1a" stroke-width="1.1"/>
<circle cx="300.90" cy="380.00" r="2.55" fill="#3b5b9a" stroke="#1a1a1a" stroke-width="1.1"/>
<circle cx="304.30" cy="380.00" r="2.55" fill="#3b5b9a" stroke="#1a1a1a" stroke-width="1.1"/>
<circle cx="308.70" cy="380.00" r="2.55" fill="#3b5b9a" stroke="#1a1a1a" stroke-width="1.1"/>
<circle cx="309.90" cy="372.30" r="2.55" fill="#3b5b9a" stroke="#1a1a1a" stroke-width="1.1"/>
<circle cx="318.70" cy="372.30" r="2.55" fill="#3b5b9a" stroke="#1a1a1a" stroke-width="1.1"/>
<circle cx="321.60" cy="380.00" r="2.55" fill="#3b5b9a" stroke="#1a1a1a" stroke-width="1.1"/>
<circle cx="322.20" cy="378.20" r="2.55" fill="#3b5b9a" stroke="#1a1a1a" stroke-width="1.1"/>
<circle cx="327.30" cy="372.30" r="2.55" fill="#3b5b9a" stroke="#1a1a1a" stroke-width="1.1"/>
<circle cx="336.70" cy="378.20" r="2.55" fill="#3b5b9a" stroke="#1a1a1a" stroke-width="1.1"/>
<circle cx="338.90" cy="380.00" r="2.55" fill="#3b5b9a" stroke="#1a1a1a" stroke-width="1.1"/>
<circle cx="341.20" cy="372.70" r="2.55" fill="#3b5b9a" stroke="#1a1a1a" stroke-width="1.1"/>
<circle cx="342.10" cy="372.30" r="2.55" fill="#3b5b9a" stroke="#1a1a1a" stroke-width="1.1"/>
<circle cx="342.40" cy="380.00" r="2.55" fill="#3b5b9a" stroke="#1a1a1a" stroke-width="1.1"/>
<circle cx="364.60" cy="380.00" r="2.55" fill="#3b5b9a" stroke="#1a1a1a" stroke-width="1.1"/>
<circle cx="371.00" cy="380.00" r="2.55" fill="#3b5b9a" stroke="#1a1a1a" stroke-width="1.1"/>
<circle cx="383.10" cy="380.00" r="2.55" fill="#3b5b9a" stroke="#1a1a1a" stroke-width="1.1"/>
<circle cx="375.90" cy="367.00" r="2.55" fill="#3b5b9a" stroke="#1a1a1a" stroke-width="1.1"/>
<circle cx="396.90" cy="253.80" r="2.55" fill="#c00034" stroke="#1a1a1a" stroke-width="1.1"/>
<circle cx="395.00" cy="253.80" r="2.55" fill="#c00034" stroke="#1a1a1a" stroke-width="1.1"/>
<circle cx="393.10" cy="253.80" r="2.55" fill="#c00034" stroke="#1a1a1a" stroke-width="1.1"/>
<line x1="268.80" y1="244.20" x2="268.80" y2="260.30" stroke="#1a1a1a" stroke-width="1.2"/>
<line x1="267.30" y1="260.00" x2="270.30" y2="260.00" stroke="#1a1a1a" stroke-width="1.2"/>
<line x1="266.00" y1="247.40" x2="268.80" y2="247.40" stroke="#1a1a1a" stroke-width="1.0"/>
<line x1="266.00" y1="254.00" x2="268.80" y2="254.00" stroke="#1a1a1a" stroke-width="1.0"/>
<line x1="268.80" y1="266.80" x2="268.80" y2="385.90" stroke="#1a1a1a" stroke-width="1.3"/>
<line x1="267.30" y1="267.10" x2="270.30" y2="267.10" stroke="#1a1a1a" stroke-width="1.2"/>
<line x1="265.80" y1="385.30" x2="268.80" y2="385.30" stroke="#1a1a1a" stroke-width="1.0"/>
<line x1="266.90" y1="366.95" x2="268.80" y2="366.95" stroke="#1a1a1a" stroke-width="1.0"/>
<line x1="265.80" y1="348.60" x2="268.80" y2="348.60" stroke="#1a1a1a" stroke-width="1.0"/>
<line x1="266.90" y1="330.25" x2="268.80" y2="330.25" stroke="#1a1a1a" stroke-width="1.0"/>
<line x1="265.80" y1="311.90" x2="268.80" y2="311.90" stroke="#1a1a1a" stroke-width="1.0"/>
<line x1="266.90" y1="293.55" x2="268.80" y2="293.55" stroke="#1a1a1a" stroke-width="1.0"/>
<line x1="265.80" y1="275.20" x2="268.80" y2="275.20" stroke="#1a1a1a" stroke-width="1.0"/>
<line x1="268.20" y1="385.45" x2="406.70" y2="385.45" stroke="#1a1a1a" stroke-width="1.4"/>
<line x1="279.00" y1="385.30" x2="279.00" y2="388.30" stroke="#1a1a1a" stroke-width="1.0"/>
<line x1="288.80" y1="385.30" x2="288.80" y2="387.30" stroke="#1a1a1a" stroke-width="1.0"/>
<line x1="298.60" y1="385.30" x2="298.60" y2="388.30" stroke="#1a1a1a" stroke-width="1.0"/>
<line x1="308.40" y1="385.30" x2="308.40" y2="387.30" stroke="#1a1a1a" stroke-width="1.0"/>
<line x1="318.20" y1="385.30" x2="318.20" y2="388.30" stroke="#1a1a1a" stroke-width="1.0"/>
<line x1="328.00" y1="385.30" x2="328.00" y2="387.30" stroke="#1a1a1a" stroke-width="1.0"/>
<line x1="337.80" y1="385.30" x2="337.80" y2="388.30" stroke="#1a1a1a" stroke-width="1.0"/>
<line x1="347.60" y1="385.30" x2="347.60" y2="387.30" stroke="#1a1a1a" stroke-width="1.0"/>
<line x1="357.40" y1="385.30" x2="357.40" y2="388.30" stroke="#1a1a1a" stroke-width="1.0"/>
<line x1="367.20" y1="385.30" x2="367.20" y2="387.30" stroke="#1a1a1a" stroke-width="1.0"/>
<line x1="377.00" y1="385.30" x2="377.00" y2="388.30" stroke="#1a1a1a" stroke-width="1.0"/>
<line x1="386.80" y1="385.30" x2="386.80" y2="387.30" stroke="#1a1a1a" stroke-width="1.0"/>
<line x1="396.60" y1="385.30" x2="396.60" y2="388.30" stroke="#1a1a1a" stroke-width="1.0"/>
<text x="275.87" y="399.10" font-size="8.8" text-anchor="start" font-weight="normal" fill="#1a1a1a" style="stroke-width:0.1px">20</text>
<line x1="274.17" y1="396.10" x2="275.57" y2="396.10" stroke="#1a1a1a" stroke-width="0.9"/>
<text x="298.60" y="399.10" font-size="8.8" text-anchor="middle" font-weight="normal" fill="#1a1a1a" style="stroke-width:0.1px">0</text>
<text x="318.20" y="399.10" font-size="8.8" text-anchor="middle" font-weight="normal" fill="#1a1a1a" style="stroke-width:0.1px">20</text>
<text x="337.80" y="399.10" font-size="8.8" text-anchor="middle" font-weight="normal" fill="#1a1a1a" style="stroke-width:0.1px">40</text>
<text x="357.40" y="399.10" font-size="8.8" text-anchor="middle" font-weight="normal" fill="#1a1a1a" style="stroke-width:0.1px">60</text>
<text x="377.00" y="399.10" font-size="8.8" text-anchor="middle" font-weight="normal" fill="#1a1a1a" style="stroke-width:0.1px">80</text>
<text x="396.60" y="399.10" font-size="8.8" text-anchor="middle" font-weight="normal" fill="#1a1a1a" style="stroke-width:0.1px">100</text>
<text x="319.10" y="412.90" font-size="9.2" text-anchor="start" font-weight="normal" fill="#1a1a1a" textLength="37.30" lengthAdjust="spacingAndGlyphs" style="stroke-width:0.3px">%-inhibition</text>
<text x="6.90" y="441.80" font-size="12.3" text-anchor="start" font-weight="bold" fill="#000" >E</text>
<text x="53.00" y="450.75" font-size="10.2" text-anchor="start" font-weight="normal" fill="#1a1a1a" textLength="149.90" lengthAdjust="spacingAndGlyphs" style="stroke-width:0.08px;word-spacing:-0.4px">TTP vs ZIP-synergy score (viability)</text>
<text x="50.40" y="462.70" font-size="8.3" text-anchor="end" font-weight="normal" fill="#1a1a1a" textLength="34.40" lengthAdjust="spacingAndGlyphs" style="stroke-width:0.15px">Complete</text>
<text x="50.40" y="475.80" font-size="8.3" text-anchor="end" font-weight="normal" fill="#1a1a1a" textLength="32.60" lengthAdjust="spacingAndGlyphs" style="stroke-width:0.15px">response</text>
<text x="50.30" y="600.60" font-size="8.8" text-anchor="end" font-weight="normal" fill="#1a1a1a" style="stroke-width:0.1px">0</text>
<text x="50.30" y="564.14" font-size="8.8" text-anchor="end" font-weight="normal" fill="#1a1a1a" style="stroke-width:0.1px">20</text>
<text x="50.30" y="527.68" font-size="8.8" text-anchor="end" font-weight="normal" fill="#1a1a1a" style="stroke-width:0.1px">40</text>
<text x="50.30" y="491.22" font-size="8.8" text-anchor="end" font-weight="normal" fill="#1a1a1a" style="stroke-width:0.1px">60</text>
<text transform="translate(35.00,569.20) rotate(-90)" font-size="9.4" fill="#1a1a1a" style="stroke-width:0.3px" textLength="9.65" lengthAdjust="spacingAndGlyphs">Day</text>
<text transform="translate(35.00,557.47) rotate(-90)" font-size="9.4" fill="#1a1a1a" style="stroke-width:0.3px" textLength="8.06" lengthAdjust="spacingAndGlyphs">of</text>
<text transform="translate(35.00,547.63) rotate(-90)" font-size="9.4" fill="#1a1a1a" style="stroke-width:0.3px" textLength="11.24" lengthAdjust="spacingAndGlyphs">cell</text>
<text transform="translate(35.00,533.91) rotate(-90)" font-size="9.4" fill="#1a1a1a" style="stroke-width:0.3px" textLength="34.30" lengthAdjust="spacingAndGlyphs">duplication,</text>
<text transform="translate(35.00,497.33) rotate(-90)" font-size="9.4" fill="#1a1a1a" style="stroke-width:0.3px" textLength="12.43" lengthAdjust="spacingAndGlyphs">TTP</text>
<rect x="90.20" y="597.70" width="7.80" height="14.70" fill="#bc6258"/>
<rect x="98.00" y="597.70" width="41.20" height="14.70" fill="#7c5a88"/>
<rect x="139.20" y="597.70" width="9.80" height="14.70" fill="#bc6258"/>
<circle cx="107.50" cy="488.10" r="2.55" fill="#b4b4b4" stroke="#1a1a1a" stroke-width="1.1"/>
<circle cx="150.00" cy="484.60" r="2.55" fill="#b4b4b4" stroke="#1a1a1a" stroke-width="1.1"/>
<circle cx="102.00" cy="509.70" r="2.55" fill="#b4b4b4" stroke="#1a1a1a" stroke-width="1.1"/>
<circle cx="97.10" cy="520.60" r="2.55" fill="#b4b4b4" stroke="#1a1a1a" stroke-width="1.1"/>
<circle cx="106.60" cy="522.70" r="2.55" fill="#b4b4b4" stroke="#1a1a1a" stroke-width="1.1"/>
<circle cx="128.50" cy="517.20" r="2.55" fill="#b4b4b4" stroke="#1a1a1a" stroke-width="1.1"/>
<circle cx="78.90" cy="535.30" r="2.55" fill="#b4b4b4" stroke="#1a1a1a" stroke-width="1.1"/>
<circle cx="80.20" cy="564.60" r="2.55" fill="#b4b4b4" stroke="#1a1a1a" stroke-width="1.1"/>
<circle cx="119.60" cy="555.60" r="2.55" fill="#b4b4b4" stroke="#1a1a1a" stroke-width="1.1"/>
<circle cx="176.30" cy="553.70" r="2.55" fill="#b4b4b4" stroke="#1a1a1a" stroke-width="1.1"/>
<circle cx="98.00" cy="585.00" r="2.55" fill="#3b5b9a" stroke="#1a1a1a" stroke-width="1.1"/>
<circle cx="139.20" cy="584.80" r="2.55" fill="#3b5b9a" stroke="#1a1a1a" stroke-width="1.1"/>
<circle cx="90.20" cy="466.00" r="2.55" fill="#c00034" stroke="#1a1a1a" stroke-width="1.1"/>
<circle cx="111.50" cy="466.00" r="2.55" fill="#c00034" stroke="#1a1a1a" stroke-width="1.1"/>
<circle cx="119.60" cy="466.00" r="2.55" fill="#c00034" stroke="#1a1a1a" stroke-width="1.1"/>
<circle cx="122.00" cy="466.00" r="2.55" fill="#c00034" stroke="#1a1a1a" stroke-width="1.1"/>
<circle cx="127.20" cy="466.00" r="2.55" fill="#c00034" stroke="#1a1a1a" stroke-width="1.1"/>
<circle cx="128.30" cy="466.00" r="2.55" fill="#c00034" stroke="#1a1a1a" stroke-width="1.1"/>
<circle cx="136.90" cy="466.00" r="2.55" fill="#c00034" stroke="#1a1a1a" stroke-width="1.1"/>
<circle cx="137.50" cy="466.00" r="2.55" fill="#c00034" stroke="#1a1a1a" stroke-width="1.1"/>
<circle cx="149.20" cy="466.00" r="2.55" fill="#c00034" stroke="#1a1a1a" stroke-width="1.1"/>
<line x1="56.80" y1="456.90" x2="56.80" y2="472.60" stroke="#1a1a1a" stroke-width="1.2"/>
<line x1="55.30" y1="472.30" x2="58.30" y2="472.30" stroke="#1a1a1a" stroke-width="1.2"/>
<line x1="54.00" y1="459.60" x2="56.80" y2="459.60" stroke="#1a1a1a" stroke-width="1.0"/>
<line x1="54.00" y1="466.30" x2="56.80" y2="466.30" stroke="#1a1a1a" stroke-width="1.0"/>
<line x1="56.80" y1="479.10" x2="56.80" y2="598.10" stroke="#1a1a1a" stroke-width="1.3"/>
<line x1="55.30" y1="479.40" x2="58.30" y2="479.40" stroke="#1a1a1a" stroke-width="1.2"/>
<line x1="53.80" y1="597.50" x2="56.80" y2="597.50" stroke="#1a1a1a" stroke-width="1.0"/>
<line x1="54.90" y1="579.27" x2="56.80" y2="579.27" stroke="#1a1a1a" stroke-width="1.0"/>
<line x1="53.80" y1="561.04" x2="56.80" y2="561.04" stroke="#1a1a1a" stroke-width="1.0"/>
<line x1="54.90" y1="542.81" x2="56.80" y2="542.81" stroke="#1a1a1a" stroke-width="1.0"/>
<line x1="53.80" y1="524.58" x2="56.80" y2="524.58" stroke="#1a1a1a" stroke-width="1.0"/>
<line x1="54.90" y1="506.35" x2="56.80" y2="506.35" stroke="#1a1a1a" stroke-width="1.0"/>
<line x1="53.80" y1="488.12" x2="56.80" y2="488.12" stroke="#1a1a1a" stroke-width="1.0"/>
<line x1="56.20" y1="597.65" x2="197.50" y2="597.65" stroke="#1a1a1a" stroke-width="1.4"/>
<line x1="56.80" y1="597.50" x2="56.80" y2="600.50" stroke="#1a1a1a" stroke-width="1.0"/>
<line x1="70.65" y1="597.50" x2="70.65" y2="599.50" stroke="#1a1a1a" stroke-width="1.0"/>
<line x1="84.50" y1="597.50" x2="84.50" y2="600.50" stroke="#1a1a1a" stroke-width="1.0"/>
<line x1="98.35" y1="597.50" x2="98.35" y2="599.50" stroke="#1a1a1a" stroke-width="1.0"/>
<line x1="112.20" y1="597.50" x2="112.20" y2="600.50" stroke="#1a1a1a" stroke-width="1.0"/>
<line x1="126.05" y1="597.50" x2="126.05" y2="599.50" stroke="#1a1a1a" stroke-width="1.0"/>
<line x1="139.90" y1="597.50" x2="139.90" y2="600.50" stroke="#1a1a1a" stroke-width="1.0"/>
<line x1="153.75" y1="597.50" x2="153.75" y2="599.50" stroke="#1a1a1a" stroke-width="1.0"/>
<line x1="167.60" y1="597.50" x2="167.60" y2="600.50" stroke="#1a1a1a" stroke-width="1.0"/>
<line x1="181.45" y1="597.50" x2="181.45" y2="599.50" stroke="#1a1a1a" stroke-width="1.0"/>
<line x1="195.30" y1="597.50" x2="195.30" y2="600.50" stroke="#1a1a1a" stroke-width="1.0"/>
<text x="56.12" y="611.30" font-size="8.8" text-anchor="start" font-weight="normal" fill="#1a1a1a" style="stroke-width:0.1px">5</text>
<line x1="54.42" y1="608.30" x2="55.82" y2="608.30" stroke="#1a1a1a" stroke-width="0.9"/>
<text x="84.50" y="611.30" font-size="8.8" text-anchor="middle" font-weight="normal" fill="#1a1a1a" style="stroke-width:0.1px">0</text>
<text x="112.20" y="611.30" font-size="8.8" text-anchor="middle" font-weight="normal" fill="#1a1a1a" style="stroke-width:0.1px">5</text>
<text x="139.90" y="611.30" font-size="8.8" text-anchor="middle" font-weight="normal" fill="#1a1a1a" style="stroke-width:0.1px">10</text>
<text x="167.60" y="611.30" font-size="8.8" text-anchor="middle" font-weight="normal" fill="#1a1a1a" style="stroke-width:0.1px">15</text>
<text x="195.30" y="611.30" font-size="8.8" text-anchor="middle" font-weight="normal" fill="#1a1a1a" style="stroke-width:0.1px">20</text>
<text x="99.80" y="625.00" font-size="9.2" text-anchor="start" font-weight="normal" fill="#1a1a1a" textLength="11.20" lengthAdjust="spacingAndGlyphs" style="stroke-width:0.3px">ZIP</text>
<text x="112.70" y="625.00" font-size="9.2" text-anchor="start" font-weight="normal" fill="#1a1a1a" textLength="23.70" lengthAdjust="spacingAndGlyphs" style="stroke-width:0.3px">synergy</text>
<text x="138.70" y="625.00" font-size="9.2" text-anchor="start" font-weight="normal" fill="#1a1a1a" textLength="16.70" lengthAdjust="spacingAndGlyphs" style="stroke-width:0.3px">score</text>
<text x="219.20" y="441.80" font-size="12.3" text-anchor="start" font-weight="bold" fill="#000" >F</text>
<text x="266.80" y="451.00" font-size="10.2" text-anchor="start" font-weight="normal" fill="#1a1a1a" textLength="147.10" lengthAdjust="spacingAndGlyphs" style="stroke-width:0.08px;word-spacing:-0.4px">TTP vs ZIP-synergy score (toxicity)</text>
<text x="262.40" y="462.70" font-size="8.3" text-anchor="end" font-weight="normal" fill="#1a1a1a" textLength="34.40" lengthAdjust="spacingAndGlyphs" style="stroke-width:0.15px">Complete</text>
<text x="262.40" y="475.80" font-size="8.3" text-anchor="end" font-weight="normal" fill="#1a1a1a" textLength="32.60" lengthAdjust="spacingAndGlyphs" style="stroke-width:0.15px">response</text>
<text x="262.30" y="600.60" font-size="8.8" text-anchor="end" font-weight="normal" fill="#1a1a1a" style="stroke-width:0.1px">0</text>
<text x="262.30" y="564.14" font-size="8.8" text-anchor="end" font-weight="normal" fill="#1a1a1a" style="stroke-width:0.1px">20</text>
<text x="262.30" y="527.68" font-size="8.8" text-anchor="end" font-weight="normal" fill="#1a1a1a" style="stroke-width:0.1px">40</text>
<text x="262.30" y="491.22" font-size="8.8" text-anchor="end" font-weight="normal" fill="#1a1a1a" style="stroke-width:0.1px">60</text>
<text transform="translate(247.40,569.00) rotate(-90)" font-size="9.4" fill="#1a1a1a" style="stroke-width:0.3px" textLength="9.57" lengthAdjust="spacingAndGlyphs">Day</text>
<text transform="translate(247.40,557.37) rotate(-90)" font-size="9.4" fill="#1a1a1a" style="stroke-width:0.3px" textLength="7.99" lengthAdjust="spacingAndGlyphs">of</text>
<text transform="translate(247.40,547.61) rotate(-90)" font-size="9.4" fill="#1a1a1a" style="stroke-width:0.3px" textLength="11.15" lengthAdjust="spacingAndGlyphs">cell</text>
<text transform="translate(247.40,534.01) rotate(-90)" font-size="9.4" fill="#1a1a1a" style="stroke-width:0.3px" textLength="34.02" lengthAdjust="spacingAndGlyphs">duplication,</text>
<text transform="translate(247.40,497.73) rotate(-90)" font-size="9.4" fill="#1a1a1a" style="stroke-width:0.3px" textLength="12.33" lengthAdjust="spacingAndGlyphs">TTP</text>
<rect x="288.70" y="597.70" width="28.10" height="14.90" fill="#bc6258"/>
<rect x="316.80" y="597.70" width="3.10" height="14.90" fill="#7c5a88"/>
<rect x="319.90" y="597.70" width="58.00" height="14.90" fill="#67759d"/>
<circle cx="290.50" cy="484.30" r="2.55" fill="#b4b4b4" stroke="#1a1a1a" stroke-width="1.1"/>
<circle cx="326.80" cy="488.10" r="2.55" fill="#b4b4b4" stroke="#1a1a1a" stroke-width="1.1"/>
<circle cx="301.70" cy="510.10" r="2.55" fill="#b4b4b4" stroke="#1a1a1a" stroke-width="1.1"/>
<circle cx="303.50" cy="522.70" r="2.55" fill="#b4b4b4" stroke="#1a1a1a" stroke-width="1.1"/>
<circle cx="318.50" cy="517.50" r="2.55" fill="#b4b4b4" stroke="#1a1a1a" stroke-width="1.1"/>
<circle cx="342.10" cy="521.00" r="2.55" fill="#b4b4b4" stroke="#1a1a1a" stroke-width="1.1"/>
<circle cx="292.20" cy="535.30" r="2.55" fill="#b4b4b4" stroke="#1a1a1a" stroke-width="1.1"/>
<circle cx="310.00" cy="553.90" r="2.55" fill="#b4b4b4" stroke="#1a1a1a" stroke-width="1.1"/>
<circle cx="309.20" cy="565.00" r="2.55" fill="#b4b4b4" stroke="#1a1a1a" stroke-width="1.1"/>
<circle cx="347.00" cy="555.70" r="2.55" fill="#b4b4b4" stroke="#1a1a1a" stroke-width="1.1"/>
<circle cx="316.80" cy="585.00" r="2.55" fill="#3b5b9a" stroke="#1a1a1a" stroke-width="1.1"/>
<circle cx="377.90" cy="584.50" r="2.55" fill="#3b5b9a" stroke="#1a1a1a" stroke-width="1.1"/>
<circle cx="319.40" cy="466.40" r="2.55" fill="#c00034" stroke="#1a1a1a" stroke-width="1.1"/>
<circle cx="318.20" cy="466.40" r="2.55" fill="#c00034" stroke="#1a1a1a" stroke-width="1.1"/>
<circle cx="313.00" cy="466.40" r="2.55" fill="#c00034" stroke="#1a1a1a" stroke-width="1.1"/>
<circle cx="308.70" cy="466.40" r="2.55" fill="#c00034" stroke="#1a1a1a" stroke-width="1.1"/>
<circle cx="306.90" cy="466.40" r="2.55" fill="#c00034" stroke="#1a1a1a" stroke-width="1.1"/>
<circle cx="304.70" cy="466.40" r="2.55" fill="#c00034" stroke="#1a1a1a" stroke-width="1.1"/>
<circle cx="298.30" cy="466.40" r="2.55" fill="#c00034" stroke="#1a1a1a" stroke-width="1.1"/>
<circle cx="296.50" cy="466.40" r="2.55" fill="#c00034" stroke="#1a1a1a" stroke-width="1.1"/>
<circle cx="293.10" cy="466.40" r="2.55" fill="#c00034" stroke="#1a1a1a" stroke-width="1.1"/>
<circle cx="290.50" cy="466.40" r="2.55" fill="#c00034" stroke="#1a1a1a" stroke-width="1.1"/>
<circle cx="288.40" cy="466.40" r="2.55" fill="#c00034" stroke="#1a1a1a" stroke-width="1.1"/>
<line x1="268.80" y1="456.90" x2="268.80" y2="472.60" stroke="#1a1a1a" stroke-width="1.2"/>
<line x1="267.30" y1="472.30" x2="270.30" y2="472.30" stroke="#1a1a1a" stroke-width="1.2"/>
<line x1="266.00" y1="459.60" x2="268.80" y2="459.60" stroke="#1a1a1a" stroke-width="1.0"/>
<line x1="266.00" y1="466.30" x2="268.80" y2="466.30" stroke="#1a1a1a" stroke-width="1.0"/>
<line x1="268.80" y1="479.10" x2="268.80" y2="598.10" stroke="#1a1a1a" stroke-width="1.3"/>
<line x1="267.30" y1="479.40" x2="270.30" y2="479.40" stroke="#1a1a1a" stroke-width="1.2"/>
<line x1="265.80" y1="597.50" x2="268.80" y2="597.50" stroke="#1a1a1a" stroke-width="1.0"/>
<line x1="266.90" y1="579.27" x2="268.80" y2="579.27" stroke="#1a1a1a" stroke-width="1.0"/>
<line x1="265.80" y1="561.04" x2="268.80" y2="561.04" stroke="#1a1a1a" stroke-width="1.0"/>
<line x1="266.90" y1="542.81" x2="268.80" y2="542.81" stroke="#1a1a1a" stroke-width="1.0"/>
<line x1="265.80" y1="524.58" x2="268.80" y2="524.58" stroke="#1a1a1a" stroke-width="1.0"/>
<line x1="266.90" y1="506.35" x2="268.80" y2="506.35" stroke="#1a1a1a" stroke-width="1.0"/>
<line x1="265.80" y1="488.12" x2="268.80" y2="488.12" stroke="#1a1a1a" stroke-width="1.0"/>
<line x1="268.20" y1="597.65" x2="410.00" y2="597.65" stroke="#1a1a1a" stroke-width="1.4"/>
<line x1="268.90" y1="597.50" x2="268.90" y2="600.50" stroke="#1a1a1a" stroke-width="1.0"/>
<line x1="282.70" y1="597.50" x2="282.70" y2="599.50" stroke="#1a1a1a" stroke-width="1.0"/>
<line x1="296.50" y1="597.50" x2="296.50" y2="600.50" stroke="#1a1a1a" stroke-width="1.0"/>
<line x1="310.30" y1="597.50" x2="310.30" y2="599.50" stroke="#1a1a1a" stroke-width="1.0"/>
<line x1="324.10" y1="597.50" x2="324.10" y2="600.50" stroke="#1a1a1a" stroke-width="1.0"/>
<line x1="337.90" y1="597.50" x2="337.90" y2="599.50" stroke="#1a1a1a" stroke-width="1.0"/>
<line x1="351.70" y1="597.50" x2="351.70" y2="600.50" stroke="#1a1a1a" stroke-width="1.0"/>
<line x1="365.50" y1="597.50" x2="365.50" y2="599.50" stroke="#1a1a1a" stroke-width="1.0"/>
<line x1="379.30" y1="597.50" x2="379.30" y2="600.50" stroke="#1a1a1a" stroke-width="1.0"/>
<line x1="393.10" y1="597.50" x2="393.10" y2="599.50" stroke="#1a1a1a" stroke-width="1.0"/>
<line x1="406.90" y1="597.50" x2="406.90" y2="600.50" stroke="#1a1a1a" stroke-width="1.0"/>
<text x="268.22" y="611.30" font-size="8.8" text-anchor="start" font-weight="normal" fill="#1a1a1a" style="stroke-width:0.1px">5</text>
<line x1="266.52" y1="608.30" x2="267.92" y2="608.30" stroke="#1a1a1a" stroke-width="0.9"/>
<text x="296.50" y="611.30" font-size="8.8" text-anchor="middle" font-weight="normal" fill="#1a1a1a" style="stroke-width:0.1px">0</text>
<text x="324.10" y="611.30" font-size="8.8" text-anchor="middle" font-weight="normal" fill="#1a1a1a" style="stroke-width:0.1px">5</text>
<text x="351.70" y="611.30" font-size="8.8" text-anchor="middle" font-weight="normal" fill="#1a1a1a" style="stroke-width:0.1px">10</text>
<text x="379.30" y="611.30" font-size="8.8" text-anchor="middle" font-weight="normal" fill="#1a1a1a" style="stroke-width:0.1px">15</text>
<text x="406.90" y="611.30" font-size="8.8" text-anchor="middle" font-weight="normal" fill="#1a1a1a" style="stroke-width:0.1px">20</text>
<text x="311.80" y="625.00" font-size="9.2" text-anchor="start" font-weight="normal" fill="#1a1a1a" textLength="11.20" lengthAdjust="spacingAndGlyphs" style="stroke-width:0.3px">ZIP</text>
<text x="324.70" y="625.00" font-size="9.2" text-anchor="start" font-weight="normal" fill="#1a1a1a" textLength="23.70" lengthAdjust="spacingAndGlyphs" style="stroke-width:0.3px">synergy</text>
<text x="350.70" y="625.00" font-size="9.2" text-anchor="start" font-weight="normal" fill="#1a1a1a" textLength="16.70" lengthAdjust="spacingAndGlyphs" style="stroke-width:0.3px">score</text>
<circle cx="431.10" cy="36.80" r="2.55" fill="#b4b4b4" stroke="#1a1a1a" stroke-width="1.1"/>
<text x="438.00" y="39.40" font-size="8.0" text-anchor="start" font-weight="normal" fill="#1a1a1a" textLength="55.10" lengthAdjust="spacingAndGlyphs" style="stroke-width:0.12px">Cells/treatments</text>
<circle cx="431.10" cy="53.30" r="2.55" fill="#c00034" stroke="#1a1a1a" stroke-width="1.1"/>
<text x="438.00" y="51.50" font-size="8.0" text-anchor="start" font-weight="normal" fill="#1a1a1a" textLength="39.90" lengthAdjust="spacingAndGlyphs" style="stroke-width:0.12px">Responding</text>
<text x="438.00" y="59.50" font-size="8.0" text-anchor="start" font-weight="normal" fill="#1a1a1a" textLength="52.90" lengthAdjust="spacingAndGlyphs" style="stroke-width:0.12px">cells/treatments</text>
<circle cx="431.10" cy="74.20" r="2.55" fill="#3b5b9a" stroke="#1a1a1a" stroke-width="1.1"/>
<text x="438.00" y="72.40" font-size="8.0" text-anchor="start" font-weight="normal" fill="#1a1a1a" textLength="53.70" lengthAdjust="spacingAndGlyphs" style="stroke-width:0.12px">Non-responding</text>
<text x="438.00" y="80.20" font-size="8.0" text-anchor="start" font-weight="normal" fill="#1a1a1a" textLength="52.90" lengthAdjust="spacingAndGlyphs" style="stroke-width:0.12px">cells/treatments</text>
<rect x="427.70" y="86.90" width="6.90" height="6.50" fill="#bc6258"/>
<text x="438.00" y="92.50" font-size="8.0" text-anchor="start" font-weight="normal" fill="#1a1a1a" textLength="61.20" lengthAdjust="spacingAndGlyphs" style="stroke-width:0.12px">Responding range</text>
<rect x="427.70" y="98.90" width="6.90" height="6.50" fill="#67759d"/>
<text x="438.00" y="104.30" font-size="8.0" text-anchor="start" font-weight="normal" fill="#1a1a1a" textLength="75.10" lengthAdjust="spacingAndGlyphs" style="stroke-width:0.12px">Non-responding range</text>
<rect x="427.70" y="110.90" width="6.90" height="6.40" fill="#7c5a88"/>
<text x="438.00" y="115.90" font-size="8.0" text-anchor="start" font-weight="normal" fill="#1a1a1a" textLength="61.90" lengthAdjust="spacingAndGlyphs" style="stroke-width:0.12px">Overlapping range</text>
<rect x="0.6" y="0.6" width="518.8" height="633.8" fill="none" stroke="#000" stroke-width="1.2"/>
</svg>
</body></html>
